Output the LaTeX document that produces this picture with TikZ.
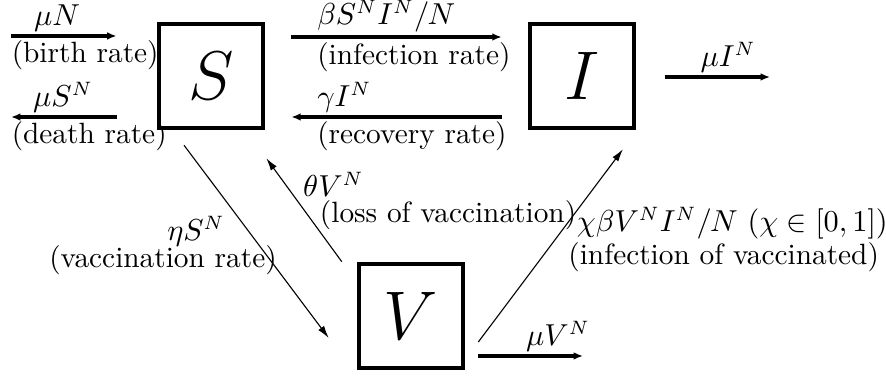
\documentclass[tikz,border=0pt]{standalone}
\usepackage{amsmath}
\usepackage{amssymb}
\usepackage{tikz}
\usetikzlibrary{arrows.meta,positioning,calc}

\begin{document}
\begin{tikzpicture}[
  >=Latex,
  comp/.style={draw, line width=1.4pt, minimum size=1.33cm,
    inner sep=0pt, font=\Huge},
  flow/.style={-{Latex[length=3.4pt,width=2.8pt]}, line width=1.4pt},
  tflow/.style={-{Latex[length=4.5pt,width=2.6pt]}, thin},
  lab/.style={inner sep=1.2pt, font=\fontsize{10.6}{12.7}\selectfont}
]
\useasboundingbox (0,0) rectangle (11.252,4.775);

% ---- Compartments ----
\node[comp] (S) at (2.680, 3.810) {$S$};
\node[comp] (I) at (7.391, 3.810) {$I$};
\node[comp] (V) at (5.220, 0.762) {$V$};

% ---- Free ends ----
\coordinate (birthin) at (0.140, 4.318);
\coordinate (deathout) at (0.140, 3.289);
\coordinate (Iout) at (9.779, 3.797);
\coordinate (Vout) at (7.404, 0.254);

% ---- Arrows: births and deaths ----
\draw[flow, shorten >=0.51cm] (birthin) -- (birthin -| S.west);
\draw[flow, shorten <=0.51cm] (deathout -| S.west) -- (deathout);
\draw[flow, shorten <=0.36cm] (Iout -| I.east) -- (Iout);
\draw[flow, shorten <=0.165cm] (Vout -| V.east) -- (Vout);

% ---- Arrows: S <-> I ----
\draw[flow, shorten <=0.33cm, shorten >=0.33cm]
  ($(S.east)+(0,0.495)$) -- ($(I.west)+(0,0.495)$);
\draw[flow, shorten <=0.33cm, shorten >=0.33cm]
  ($(I.west)+(0,-0.521)$) -- ($(S.east)+(0,-0.521)$);

% ---- Arrows: vaccination ----
\draw[tflow] ($(S.south)+(-0.343,-0.19)$) -- ($(V.west)+(-0.356,-0.279)$);
\draw[tflow] ($(V.north west)+(-0.19,0)$) -- ($(S.south east)+(0.013,-0.356)$);
\draw[tflow] ($(V.east)+(0.165,-0.33)$) -- ($(I.south)+(0.52,-0.241)$);

% ---- Labels ----
\node[lab, anchor=south] (birthr) at (0.724, 4.33) {$\mu N$};
\node[lab, anchor=north west] (birthl) at (0.10, 4.31) {(birth rate)};
\node[lab, anchor=south] (deathr) at (0.80, 3.30) {$\mu S^N$};
\node[lab, anchor=north west] (deathl) at (0.10, 3.28) {(death rate)};
\node[lab, anchor=south west] (infr) at (3.98, 4.32) {$\beta S^N I^N/N$};
\node[lab, anchor=north west] (infl) at (3.98, 4.29) {(infection rate)};
\node[lab, anchor=south west] (recr) at (3.98, 3.30) {$\gamma I^N$};
\node[lab, anchor=north west] (recl) at (3.98, 3.28) {(recovery rate)};
\node[lab, anchor=south] (Ioutr) at (9.246, 3.81) {$\mu I^N$};
\node[lab, anchor=south] (Voutr) at (7.087, 0.267) {$\mu V^N$};
\node[lab, anchor=base] (vacr) at (2.489, 1.72) {$\eta S^N$};
\node[lab, anchor=base] (vacl) at (2.07, 1.375) {(vaccination rate)};
\node[lab, anchor=base] (lossr) at (4.235, 2.28) {$\theta V^N$};
\node[lab, anchor=base] (lossl) at (5.69, 1.95) {(loss of vaccination)};
\node[lab, anchor=base] (vinfr) at (9.30, 1.83)
  {$\chi\beta V^N I^N/N~(\chi\in[0,1])$};
\node[lab, anchor=base] (vinfl) at (9.19, 1.41) {(infection of vaccinated)};

\end{tikzpicture}
\end{document}
